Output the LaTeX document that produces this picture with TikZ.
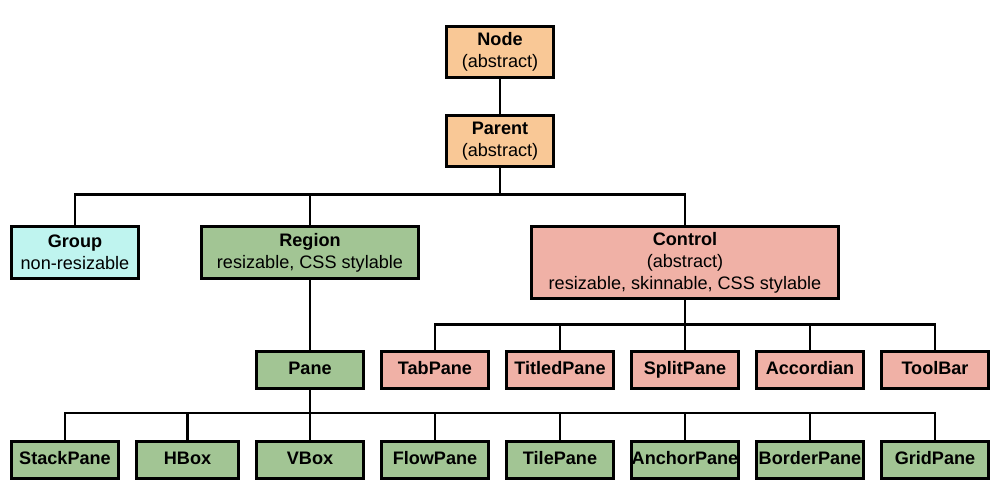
\documentclass[tikz,border=0pt]{standalone}
\usepackage{fontspec}
\setmainfont{Liberation Sans}
\usepackage{tikz}
\usetikzlibrary{positioning}
\usepackage{xcolor}
\definecolor{abstractfill}{HTML}{F9C896}
\definecolor{groupfill}{HTML}{BFF4EF}
\definecolor{regionfill}{HTML}{A2C594}
\definecolor{controlfill}{HTML}{F0B1A6}

\begin{document}
\begin{tikzpicture}[x=0.02cm, y=-0.02cm,
  box/.style={draw, line width=1.6pt, rectangle, align=center, inner sep=0pt,
    font=\fontsize{10.3}{12.6}\selectfont},
  conn/.style={line width=1.6pt}]
\useasboundingbox (0,0) rectangle (1000,500);

% top of the tree
\node[box, fill=abstractfill, minimum width=2.14cm, minimum height=1.02cm] (node) at (500,52) {\textbf{Node}\\(abstract)};
\node[box, fill=abstractfill, minimum width=2.14cm, minimum height=1.02cm] (parent) at (500,141) {\textbf{Parent}\\(abstract)};

% second row
\node[box, fill=groupfill, minimum width=2.54cm, minimum height=1.04cm] (group) at (75,252.5) {\textbf{Group}\\non-resizable};
\node[box, fill=regionfill, minimum width=4.34cm, minimum height=1.04cm] (region) at (310,252.5) {\textbf{Region}\\resizable, CSS stylable};
\node[box, fill=controlfill, minimum width=6.14cm, minimum height=1.44cm] (control) at (685,262.5) {\textbf{Control}\\(abstract)\\resizable, skinnable, CSS stylable};

% third row
\node[box, fill=regionfill, minimum width=2.14cm, minimum height=0.74cm] (pane) at (310,370) {\strut\textbf{Pane}};
\foreach \name/\txt/\x in {tabpane/TabPane/435, titledpane/TitledPane/560, splitpane/SplitPane/685,
    accordian/Accordian/810, toolbar/ToolBar/935}
  \node[box, fill=controlfill, minimum width=2.14cm, minimum height=0.74cm] (\name) at (\x,370) {\strut\textbf{\txt}};

% bottom row
\node[box, fill=regionfill, minimum width=2.04cm, minimum height=0.74cm] (hbox) at (187.5,460) {\strut\textbf{HBox}};
\foreach \name/\txt/\x in {stackpane/StackPane/65, vbox/VBox/310, flowpane/FlowPane/435,
    tilepane/TilePane/560, anchorpane/AnchorPane/685, borderpane/BorderPane/810, gridpane/GridPane/935}
  \node[box, fill=regionfill, minimum width=2.14cm, minimum height=0.74cm] (\name) at (\x,460) {\strut\textbf{\txt}};

% connectors
\draw[conn] (node) -- (parent);
\foreach \child in {group, region, control}
  \draw[conn] (parent.south) -- ++(0,27) -| (\child.north);
\draw[conn] (region) -- (pane);
\foreach \child in {tabpane, titledpane, splitpane, accordian, toolbar}
  \draw[conn] (control.south) -- ++(0,25) -| (\child.north);
\foreach \child in {stackpane, hbox, vbox, flowpane, tilepane, anchorpane, borderpane, gridpane}
  \draw[conn] (pane.south) -- ++(0,23) -| (\child.north);
\end{tikzpicture}
\end{document}
